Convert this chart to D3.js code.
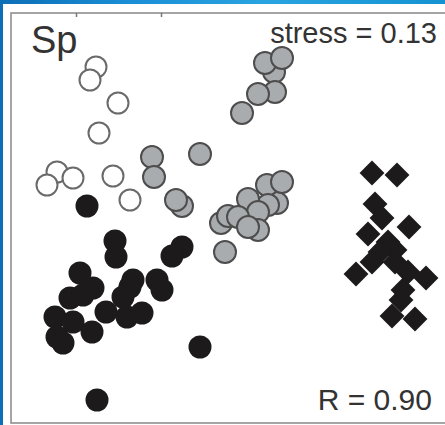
<!DOCTYPE html>
<html>
<head>
<meta charset="utf-8">
<script src="https://cdn.jsdelivr.net/npm/d3@7"></script>
<style>
  html, body { margin: 0; padding: 0; }
  body { width: 445px; height: 425px; overflow: hidden; background: #1590d2; }
  text { font-family: "Liberation Sans", Arial, sans-serif; fill: #333; }
</style>
</head>
<body>
<div id="chart"></div>
<script>
var width = 445,
    height = 425;

// NMDS ordination scores, one array per group
var openPts = [[-1.34,1.51],[-1.40,1.38],[-1.12,1.15],[-1.31,0.85],[-1.73,0.46],
  [-1.57,0.40],[-1.83,0.33],[-1.17,0.42],[-1.00,0.18]];

var grayPts = [[0.44,1.46],[0.35,1.55],[0.52,1.60],[0.45,1.26],[0.28,1.24],[0.12,1.05],
  [-0.78,0.61],[-0.76,0.41],[-0.30,0.64],[-0.48,0.12],[-0.54,0.18],
  [0.47,0.15],[0.37,0.33],[0.52,0.36],[0.38,0.13],[0.18,0.19],[0.28,0.06],
  [-0.09,-0.05],[-0.02,0.02],[0.08,0.01],[0.28,-0.12],[0.18,-0.09],[-0.05,-0.34]];

var blackPts = [[-1.43,0.12],[-1.15,-0.23],[-1.14,-0.39],[-0.48,-0.29],[-0.58,-0.38],
  [-1.50,-0.55],[-1.37,-0.70],[-1.60,-0.80],[-1.47,-0.77],[-0.97,-0.62],[-1.00,-0.69],
  [-1.07,-0.79],[-0.73,-0.62],[-0.68,-0.72],[-1.24,-0.94],[-1.03,-0.99],[-0.88,-0.95],
  [-1.75,-0.99],[-1.57,-1.04],[-1.38,-1.14],[-1.73,-1.19],[-1.67,-1.25],[-0.30,-1.29],
  [-1.33,-1.82]];

var diamondPts = [[1.42,0.45],[1.67,0.43],[1.45,0.14],[1.52,0.00],[1.79,-0.09],
  [1.38,-0.16],[1.58,-0.24],[1.65,-0.32],[1.50,-0.34],[1.42,-0.44],[1.26,-0.56],
  [1.65,-0.44],[1.78,-0.54],[1.96,-0.60],[1.73,-0.72],[1.71,-0.82],[1.62,-0.98],
  [1.85,-1.01]];

var topTicks = [-1.54, -0.69];
var labels = { panel: "Sp", stress: "stress = 0.13", r: "R = 0.90" };

var frame = { left: 11, top: 13, right: 449, bottom: 423 };

var svg = d3.select("#chart").append("svg")
    .attr("width", width)
    .attr("height", height);

var defs = svg.append("defs");
var grad = defs.append("linearGradient").attr("id", "bg")
    .attr("x1", "0").attr("y1", "0").attr("x2", "1").attr("y2", "0");
grad.append("stop").attr("offset", "0").attr("stop-color", "#0c6fb6");
grad.append("stop").attr("offset", "0.3").attr("stop-color", "#1b8fd6");
grad.append("stop").attr("offset", "0.6").attr("stop-color", "#2aa4e0");
grad.append("stop").attr("offset", "1").attr("stop-color", "#1592d2");

svg.append("rect")
    .attr("width", width).attr("height", height)
    .attr("fill", "url(#bg)");

svg.append("rect")
    .attr("x", 3).attr("y", 4)
    .attr("width", width - 3).attr("height", height - 4)
    .attr("fill", "#fff");

var x = d3.scaleLinear()
    .domain([-2.19, 2.19])
    .range([frame.left, frame.right]);

var y = d3.scaleLinear()
    .domain([-2.05, 2.05])
    .range([frame.bottom, frame.top]);

// plot frame
svg.append("rect")
    .attr("x", frame.left).attr("y", frame.top)
    .attr("width", frame.right - frame.left)
    .attr("height", frame.bottom - frame.top)
    .attr("fill", "none")
    .attr("stroke", "#888")
    .attr("stroke-width", 1.5);

var axisTop = svg.append("g")
    .attr("transform", "translate(0," + frame.top + ")")
    .call(d3.axisBottom(x).tickValues(topTicks).tickSize(4).tickFormat(""));
axisTop.select(".domain").remove();
axisTop.selectAll("line").attr("stroke", "#777").attr("stroke-width", 1.5);

var r = 10.5;

svg.append("g").selectAll("circle")
    .data(openPts)
  .enter().append("circle")
    .attr("cx", function(d) { return x(d[0]); })
    .attr("cy", function(d) { return y(d[1]); })
    .attr("r", r)
    .attr("fill", "#fff")
    .attr("stroke", "#6a6a6a")
    .attr("stroke-width", 2);

svg.append("g").selectAll("circle")
    .data(grayPts)
  .enter().append("circle")
    .attr("cx", function(d) { return x(d[0]); })
    .attr("cy", function(d) { return y(d[1]); })
    .attr("r", r + 0.5)
    .attr("fill", "#a9acaf")
    .attr("stroke", "#4d4d4d")
    .attr("stroke-width", 2);

svg.append("g").selectAll("circle")
    .data(blackPts)
  .enter().append("circle")
    .attr("cx", function(d) { return x(d[0]); })
    .attr("cy", function(d) { return y(d[1]); })
    .attr("r", r + 1)
    .attr("fill", "#1c1a1a");

var diamond = d3.symbol().type(d3.symbolSquare).size(310);

svg.append("g").selectAll("path")
    .data(diamondPts)
  .enter().append("path")
    .attr("d", diamond)
    .attr("transform", function(d) { return "translate(" + x(d[0]) + "," + y(d[1]) + ") rotate(45)"; })
    .attr("fill", "#1c1a1a");

svg.append("text")
    .attr("x", 31).attr("y", 53)
    .attr("font-size", 38)
    .text(labels.panel);

svg.append("text")
    .attr("x", 437).attr("y", 43)
    .attr("text-anchor", "end")
    .attr("font-size", 29)
    .text(labels.stress);

svg.append("text")
    .attr("x", 432).attr("y", 410)
    .attr("text-anchor", "end")
    .attr("font-size", 30)
    .text(labels.r);
</script>
</body>
</html>
